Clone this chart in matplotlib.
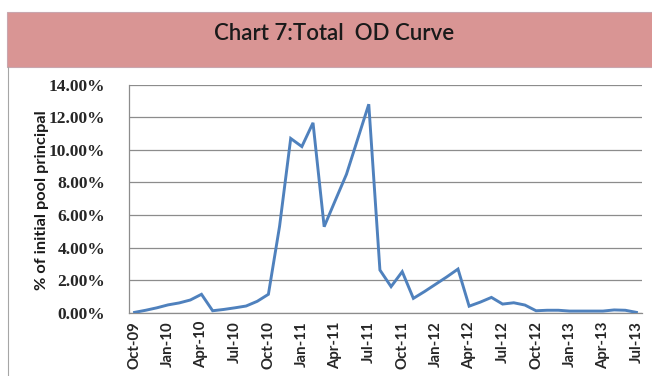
import numpy as np
import matplotlib.pyplot as plt
from matplotlib.patches import Rectangle
from matplotlib.lines import Line2D

# monthly total OD, Oct-09 .. Jul-13 (% of initial pool principal)
od_pct = [0.02, 0.15, 0.30, 0.48, 0.60, 0.78, 1.13, 0.12, 0.20, 0.30,
          0.41, 0.70, 1.13, 5.30, 10.70, 10.20, 11.66, 5.28, 6.90, 8.50,
          10.65, 12.80, 2.62, 1.60, 2.52, 0.88, 1.30, 1.75, 2.20, 2.68,
          0.40, 0.65, 0.94, 0.53, 0.61, 0.47, 0.12, 0.15, 0.15, 0.10,
          0.10, 0.10, 0.10, 0.17, 0.15, 0.02]
tick_labels = ['Oct-09', 'Jan-10', 'Apr-10', 'Jul-10', 'Oct-10', 'Jan-11',
               'Apr-11', 'Jul-11', 'Oct-11', 'Jan-12', 'Apr-12', 'Jul-12',
               'Oct-12', 'Jan-13', 'Apr-13', 'Jul-13']
y_ticks = [0, 2, 4, 6, 8, 10, 12, 14]

fig = plt.figure(figsize=(6.52, 3.76), dpi=100)
W, H = 652, 376

# title band
fig.patches.append(Rectangle((7 / W, 1 - 67 / H), 1.0, 55 / H, transform=fig.transFigure,
                             facecolor='#D99594', edgecolor='#C9A6AE', lw=0.8, zorder=0))
fig.lines.append(Line2D([7.5 / W, 7.5 / W], [0, 1 - 67 / H], transform=fig.transFigure,
                        color='#A6A6A6', lw=0.8))
fig.text(334 / W, 1 - 34 / H, 'Chart 7:Total  OD Curve', ha='center', va='center',
         fontsize=16, family='Lato', fontweight='semibold', color='#1a1a1a')

ax = fig.add_axes([129 / W, 1 - 312.7 / H, (642 - 129) / W, (312.7 - 84.7) / H])
x = np.arange(len(od_pct))
ax.plot(x, od_pct, color='#4F81BD', lw=2.1, solid_joinstyle='miter', zorder=3)

ax.set_xlim(-0.5, len(od_pct) - 0.5)
ax.set_ylim(0, 14)
ax.set_yticks(y_ticks)
ax.set_yticklabels(['%.2f%%' % v for v in y_ticks], family='Liberation Serif',
                   fontweight='bold', fontsize=12.5, color='#262626')
ax.set_xticks(x[::3])
ax.set_xticklabels(tick_labels, rotation=90, family='Lato', fontweight='bold',
                   fontsize=10.8, color='#262626')
ax.tick_params(length=0, pad=6)
ax.tick_params(axis='y', pad=17)

ax.grid(axis='y', color='#8C8C8C', lw=0.9)
ax.set_axisbelow(True)
for s in ['top', 'right']:
    ax.spines[s].set_visible(False)
for s in ['left', 'bottom']:
    ax.spines[s].set_color('#8C8C8C')
    ax.spines[s].set_linewidth(0.9)

fig.text(42 / W, 1 - 200 / H, '% of initial pool principal', rotation=90, ha='center',
         va='center', family='Lato', fontweight='bold', fontsize=11.8, color='#1a1a1a')

fig.savefig('out.png', dpi=100)
